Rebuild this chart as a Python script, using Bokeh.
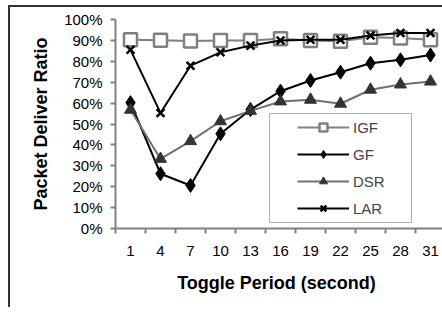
import numpy as np
from bokeh.plotting import figure
from bokeh.models import (FixedTicker, NumeralTickFormatter, Range1d, Legend,
                          LegendItem, BoxAnnotation)
from bokeh.embed import file_html
from bokeh.resources import INLINE

periods = ["1", "4", "7", "10", "13", "16", "19", "22", "25", "28", "31"]
igf = [90.3, 90.1, 89.7, 90.0, 90.0, 90.8, 90.0, 89.6, 91.5, 91.2, 90.3]
gf = [60.2, 26.2, 20.6, 45.3, 56.9, 65.7, 70.8, 74.8, 79.1, 80.7, 83.0]
dsr = [56.8, 33.3, 41.8, 51.3, 56.3, 60.8, 61.6, 59.7, 66.4, 68.9, 70.3]
lar = [85.5, 55.3, 77.9, 84.3, 87.5, 90.0, 90.3, 90.3, 92.3, 93.5, 93.5]
y_ticks = [0, 10, 20, 30, 40, 50, 60, 70, 80, 90, 100]

xs = np.arange(len(periods)) + 0.5
frac = lambda a: [v / 100.0 for v in a]

p = figure(width=432, height=302, output_backend="svg", toolbar_location=None,
           x_range=Range1d(0, 10.9), y_range=Range1d(0, 1.0),
           min_border_left=105, min_border_right=0, min_border_top=12,
           min_border_bottom=81,
           styles={"margin-left": "10px", "margin-top": "7px",
                   "box-shadow": "-2px -2px 0px 0px #333333, 0px -2px 0px 0px #333333"})
p.outline_line_color = None
p.grid.visible = False
p.background_fill_color = "white"
p.border_fill_color = "white"

font = "Liberation Sans"

# x axis
p.xaxis.ticker = FixedTicker(ticks=list(xs), minor_ticks=list(range(len(periods))))
p.xaxis.major_label_overrides = {float(x): lab for x, lab in zip(xs, periods)}
p.xaxis.major_tick_line_color = None
p.xaxis.major_tick_out = 0
p.xaxis.major_tick_in = 0
p.xaxis.minor_tick_out = 5
p.xaxis.minor_tick_in = 0
p.xaxis.minor_tick_line_color = "#808080"
p.xaxis.minor_tick_line_width = 2
p.xaxis.major_label_standoff = 12
p.xaxis.axis_label = "Toggle Period  (second)"
p.xaxis.axis_label_standoff = 14

# y axis
p.yaxis.ticker = FixedTicker(ticks=[v / 100.0 for v in y_ticks], minor_ticks=[])
p.yaxis.formatter = NumeralTickFormatter(format="0%")
p.yaxis.major_tick_out = 5
p.yaxis.major_tick_in = 0
p.yaxis.major_tick_line_color = "#808080"
p.yaxis.major_tick_line_width = 2
p.yaxis.major_label_standoff = 8
p.yaxis.axis_label = "Packet Deliver Ratio"
p.yaxis.axis_label_standoff = 10

for ax in (p.xaxis, p.yaxis):
    ax.axis_line_color = "#808080"
    ax.axis_line_width = 2
    ax.major_label_text_font = font
    ax.major_label_text_font_size = "15px"
    ax.major_label_text_color = "black"
    ax.axis_label_text_font = font
    ax.axis_label_text_font_size = "18px"
    ax.axis_label_text_font_style = "bold"
    ax.axis_label_text_color = "black"

# series
l1 = p.line(xs, frac(igf), line_color="#808080", line_width=2)
m1 = p.scatter(xs, frac(igf), marker="square", size=13, line_color="#808080",
               line_width=2.5, fill_color="white")
l2 = p.line(xs, frac(gf), line_color="black", line_width=2)
m2 = p.scatter(xs, frac(gf), marker="diamond", size=14, line_color="black",
               fill_color="black")
l3 = p.line(xs, frac(dsr), line_color="#707070", line_width=2)
m3 = p.scatter(xs, frac(dsr), marker="triangle", size=12, line_color="#333333",
               fill_color="#333333")
l4 = p.line(xs, frac(lar), line_color="black", line_width=2)
m4 = p.scatter(xs, frac(lar), marker="x", size=11, line_color="black",
               line_width=2.5)

box = BoxAnnotation(left=259, right=401, top=106, bottom=215,
                    left_units="canvas", right_units="canvas",
                    top_units="canvas", bottom_units="canvas",
                    fill_color="white", fill_alpha=1.0,
                    line_color="black", line_width=1)
p.add_layout(box)

legend = Legend(items=[
    LegendItem(label="IGF", renderers=[l1, m1]),
    LegendItem(label="GF", renderers=[l2, m2]),
    LegendItem(label="DSR", renderers=[l3, m3]),
    LegendItem(label="LAR", renderers=[l4, m4]),
], location=(182, 10))
legend.border_line_color = None
legend.background_fill_alpha = 0
legend.padding = 5
legend.spacing = 7
legend.margin = 0
legend.glyph_width = 52
legend.glyph_height = 20
legend.label_standoff = 4
legend.label_text_font = font
legend.label_text_font_size = "15px"
legend.label_height = 20
p.add_layout(legend)

open("out.html", "w").write(file_html(p, INLINE))
